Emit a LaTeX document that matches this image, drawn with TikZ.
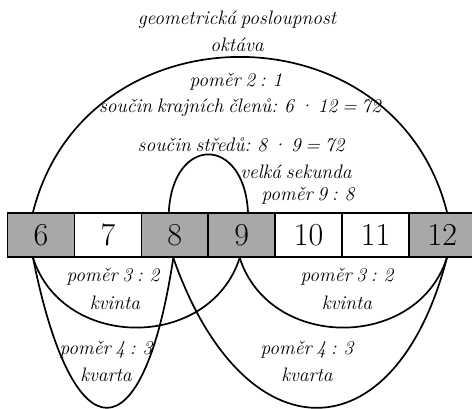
\documentclass[tikz,border=0pt]{standalone}
\usepackage{fontspec}
\definecolor{boxgray}{RGB}{168,168,168}

\begin{document}
\begin{tikzpicture}[x=1pt,y=-1pt]
\tikzstyle{bow}=[line width=1.7pt]
\tikzstyle{tone}=[draw,line width=1.7pt,minimum width=66.9pt,minimum height=44pt,inner sep=0pt,font=\fontsize{32}{32}\selectfont]
\tikzstyle{dark}=[tone,fill=boxgray]
\tikzstyle{txt}=[inner sep=0pt,font=\itshape\fontsize{19.5}{19.5}\selectfont,execute at begin node={\spaceskip=0.24em\relax}]
\useasboundingbox (0,0) rectangle (472,409);

\node (6) at (41.0,235) [dark]{6};
\node (7) at (107.9,235) [tone]{7};
\node (8) at (174.8,235) [dark]{8};
\node (9) at (241.7,235) [dark]{9};
\node (10) at (308.6,235) [tone]{10};
\node (11) at (375.5,235) [tone]{11};
\node (12) at (442.4,235) [dark]{12};

\node (13) at (237,20) [txt]{geometrická posloupnost};
\node (14) at (237,45) [txt]{oktáva};
\node (15) at (236,82) [txt]{poměr 2 : 1};
\node (16) at (240,108) [txt]{součin krajních členů: 6 · 12 = 72};
\node (17) at (241,145) [txt]{součin středů: 8 · 9 = 72};
\node (18) at (296,172) [txt]{velká sekunda};
\node (19) at (308,196) [txt]{poměr 9 : 8};

\node (20) at (113,277) [txt]{poměr 3 : 2};
\node (21) at (115,303) [txt]{kvinta};
\node (22) at (347,277) [txt]{poměr 3 : 2};
\node (23) at (347,303) [txt]{kvinta};
\node (24) at (106,350) [txt]{poměr 4 : 3};
\node (25) at (106,375) [txt]{kvarta};
\node (26) at (307,350) [txt]{poměr 4 : 3};
\node (27) at (307,375) [txt]{kvarta};

% oktava, velka sekunda
\draw[bow] ([xshift=-8pt]6.north) .. controls +(52,-207) and +(-52,-207) .. ([xshift=4.6pt]12.north);
\draw[bow] ([xshift=-6pt]8.north) .. controls +(4,-77) and +(-4,-77) .. ([xshift=6.3pt]9.north);
% kvinty
\draw[bow] ([xshift=-8pt]6.south) .. controls +(30,93) and +(-30,93) .. ([xshift=-2pt]9.south);
\draw[bow] ([xshift=-2pt]9.south) .. controls +(30,93) and +(-30,93) .. ([xshift=4.5pt]12.south);
% kvarty
\draw[bow] ([xshift=-8pt]6.south) .. controls +(40,200) and +(-30,200) .. ([xshift=-1.5pt]8.south);
\draw[bow] ([xshift=-1.5pt]8.south) .. controls +(70,200) and +(-52,200) .. ([xshift=4.5pt]12.south);
\end{tikzpicture}
\end{document}
